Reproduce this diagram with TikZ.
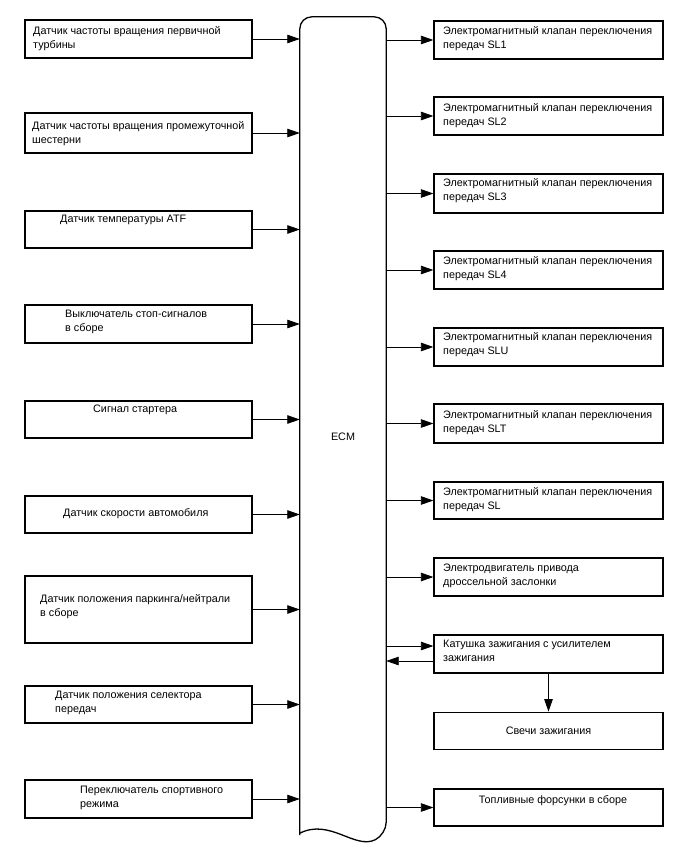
\documentclass[tikz,border=0pt]{standalone}
\usepackage{fontspec}
\setmainfont{Liberation Sans}
\usepackage{tikz}
\usetikzlibrary{arrows.meta,positioning}

\begin{document}
\begin{tikzpicture}[
  x=1pt, y=-1pt,
  font=\fontsize{10.8}{14}\selectfont,
  inbox/.style={draw, line width=1.2pt, minimum width=227pt, inner sep=0pt},
  outbox/.style={draw, line width=1.2pt, minimum width=229pt, inner sep=0pt},
  txt/.style={anchor=north west, align=left, inner sep=0pt},
  arr/.style={-{Triangle[length=12.5pt, width=8.5pt]}, line width=0.8pt}
]
\useasboundingbox (0,0) rectangle (688,852);

% ECM block
\node[minimum width=86pt, minimum height=818pt, inner sep=0pt] (ecm) at (343,426) {};
\draw[line width=1.3pt, rounded corners=12pt]
  (ecm.south west) -- (ecm.north west) -- (ecm.north east) -- ([yshift=1pt]ecm.south east)
  [sharp corners] .. controls (355,850) and (330,818) .. ([yshift=2pt]ecm.south west);
\node (ecmlabel) at ([yshift=-11pt]ecm.center) {ECM};

% inputs
\node[inbox, minimum height=38pt] (s1) at (138.5,39) {};
\node[inbox, minimum height=40pt] (s2) at (138.5,133) {};
\node[inbox, minimum height=37pt] (s3) at (138.5,229.5) {};
\node[inbox, minimum height=38pt] (s4) at (138.5,324) {};
\node[inbox, minimum height=37pt] (s5) at (138.5,419.5) {};
\node[inbox, minimum height=37pt] (s6) at (138.5,514.5) {};
\node[inbox, minimum height=67pt] (s7) at (138.5,609.5) {};
\node[inbox, minimum height=37pt] (s8) at (138.5,704.5) {};
\node[inbox, minimum height=38pt] (s9) at (138.5,799) {};

\node[txt] (s1t) at (33,26) {Датчик частоты вращения первичной\\турбины};
\node[txt] (s2t) at (32,121) {Датчик частоты вращения промежуточной\\шестерни};
\node[txt] (s3t) at (60,215) {Датчик температуры ATF};
\node[txt] (s4t) at (65,310) {Выключатель стоп-сигналов\\в сборе};
\node[txt] (s5t) at (93,405) {Сигнал стартера};
\node[txt] (s6t) at (63,508) {Датчик скорости автомобиля};
\node[txt] (s7t) at (40,594) {Датчик положения паркинга/нейтрали\\в сборе};
\node[txt] (s8t) at (55,691) {Датчик положения селектора\\передач};
\node[txt] (s9t) at (80,786) {Переключатель спортивного\\режима};

\draw[arr] (s1.east) -- (s1.east -| ecm.west);
\draw[arr] (s2.east) -- (s2.east -| ecm.west);
\draw[arr] (s3.east) -- (s3.east -| ecm.west);
\draw[arr] (s4.east) -- (s4.east -| ecm.west);
\draw[arr] (s5.east) -- (s5.east -| ecm.west);
\draw[arr] (s6.east) -- (s6.east -| ecm.west);
\draw[arr] (s7.east) -- (s7.east -| ecm.west);
\draw[arr] (s8.east) -- (s8.east -| ecm.west);
\draw[arr] (s9.east) -- (s9.east -| ecm.west);

% outputs
\node[outbox, minimum height=38pt] (v1) at (548.5,40) {};
\node[outbox, minimum height=38pt] (v2) at (548.5,116) {};
\node[outbox, minimum height=39pt] (v3) at (548.5,193.5) {};
\node[outbox, minimum height=38pt] (v4) at (548.5,270) {};
\node[outbox, minimum height=38pt] (v5) at (548.5,347) {};
\node[outbox, minimum height=39pt] (v6) at (548.5,423.5) {};
\node[outbox, minimum height=37pt] (v7) at (548.5,500.5) {};
\node[outbox, minimum height=38pt] (thr) at (548.5,577) {};
\node[outbox, minimum height=38pt] (coil) at (548.5,654) {};
\node[outbox, minimum height=37pt, below=38pt of coil] (plug) {Свечи зажигания};
\node[outbox, minimum height=37pt] (inj) at (548.5,807.5) {};

\node[txt] (v1t) at (443,26) {Электромагнитный клапан переключения\\передач SL1};
\node[txt] (v2t) at (443,103) {Электромагнитный клапан переключения\\передач SL2};
\node[txt] (v3t) at (443,178) {Электромагнитный клапан переключения\\передач SL3};
\node[txt] (v4t) at (443,256) {Электромагнитный клапан переключения\\передач SL4};
\node[txt] (v5t) at (443,332) {Электромагнитный клапан переключения\\передач SLU};
\node[txt] (v6t) at (443,410) {Электромагнитный клапан переключения\\передач SLT};
\node[txt] (v7t) at (443,487) {Электромагнитный клапан переключения\\передач SL};
\node[txt] (thrt) at (443,564) {Электродвигатель привода\\дроссельной заслонки};
\node[txt] (coilt) at (443,640) {Катушка зажигания с усилителем\\зажигания};
\node[txt, anchor=north] (injt) at (553,795) {Топливные форсунки в сборе};

\draw[arr] (v1.west -| ecm.east) -- (v1.west);
\draw[arr] (v2.west -| ecm.east) -- (v2.west);
\draw[arr] (v3.west -| ecm.east) -- (v3.west);
\draw[arr] (v4.west -| ecm.east) -- (v4.west);
\draw[arr] (v5.west -| ecm.east) -- (v5.west);
\draw[arr] (v6.west -| ecm.east) -- (v6.west);
\draw[arr] (v7.west -| ecm.east) -- (v7.west);
\draw[arr] (thr.west -| ecm.east) -- (thr.west);
\draw[arr] ([yshift=8pt]coil.west -| ecm.east) -- ([yshift=8pt]coil.west);
\draw[arr] ([yshift=-7pt]coil.west) -- ([yshift=-7pt]coil.west -| ecm.east);
\draw[arr] (coil.south) -- (plug.north);
\draw[arr] (inj.west -| ecm.east) -- (inj.west);
\end{tikzpicture}
\end{document}
